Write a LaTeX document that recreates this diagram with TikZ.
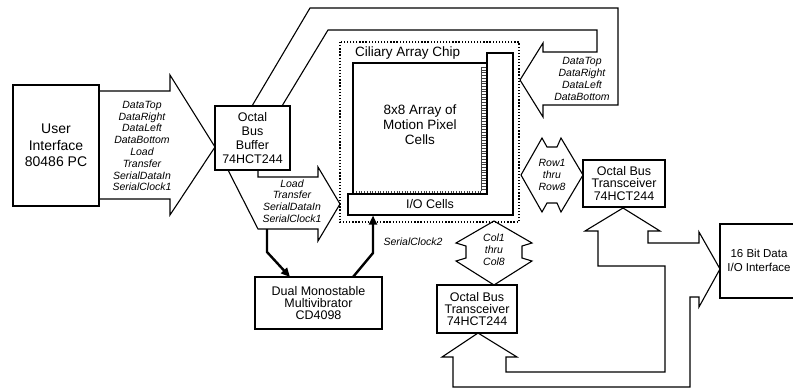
\documentclass[tikz,border=0pt]{standalone}
\usepackage{fontspec}
\setmainfont{Liberation Sans}
\usetikzlibrary{arrows.meta}
\begin{document}
\begin{tikzpicture}[x=1pt,y=-1pt,
  box/.style={draw, line width=1.3pt, fill=white, inner sep=0pt},
  lbl/.style={font=\fontsize{12.5}{12.5}\selectfont, align=center, inner sep=0pt},
  sm/.style={font=\itshape\fontsize{10.5}{11.8}\selectfont, align=center, inner sep=0pt},
  fat/.style={draw, line width=1.1pt, line join=miter, fill=white},
  tarrow/.style={line width=2.4pt, -{Triangle[length=9pt,width=8pt]}}]
\useasboundingbox (0,0) rectangle (793,388);
\clip (0,0) rectangle (793,388);

% fat arrow: user interface -> buffer
\draw[fat] (99,91) -- (170,91) -- (170,75) -- (215,147) -- (170,215) -- (170,199) -- (99,199) -- cycle;
\node[sm] (t1) at (142,146) {DataTop\\DataRight\\DataLeft\\DataBottom\\Load\\Transfer\\SerialDataIn\\SerialClock1};

% fat arrow: buffer -> over the top -> chip right side
\draw[fat] (252,106) -- (310,8) -- (618,8) -- (618,105) -- (543,105) -- (543,117) -- (520,80)
  -- (543,43) -- (543,52) -- (597,52) -- (597,30) -- (328,30) -- (282,106) -- cycle;
\node[sm] (t2) at (582,79) {DataTop\\DataRight\\DataLeft\\DataBottom};

% fat arrow: buffer -> I/O cells
\draw[fat] (228,170) -- (258,229) -- (318,229) -- (318,241) -- (340,204) -- (318,167) -- (318,177)
  -- (258,177) -- (258,170) -- cycle;
\node[sm] (t3) at (292,201) {Load\\Transfer\\SerialDataIn\\SerialClock1};

% row double arrow
\draw[fat] (521,175) -- (542,138) -- (547,147) -- (557,147) -- (561,138) -- (583,175) -- (561,212)
  -- (557,203) -- (547,203) -- (542,212) -- cycle;
\node[sm] (t4) at (552,175) {Row1\\thru\\Row8};

% column double arrow
\draw[fat] (494,221) -- (532,243) -- (522,246) -- (522,258) -- (532,261) -- (494,285) -- (456,261)
  -- (466,258) -- (466,246) -- (456,243) -- cycle;
\node[sm] (t5) at (494,250) {Col1\\thru\\Col8};

% bottom bus loop
\draw[fat] (623,208) -- (660,231) -- (648,231) -- (648,243) -- (699,243) -- (699,232) -- (720,269)
  -- (699,307) -- (699,297) -- (690,297) -- (690,387) -- (453,387) -- (453,357) -- (442,357)
  -- (478,333) -- (517,357) -- (506,357) -- (506,372) -- (665,372) -- (665,266) -- (598,266)
  -- (598,231) -- (585,231) -- cycle;

% chip
\draw[line width=1.2pt, dash pattern=on 1.3pt off 1.8pt] (340,42) rectangle (519,222);
\node[lbl, anchor=west, font=\fontsize{13.5}{13.5}\selectfont] (chiplbl) at (355,53) {Ciliary Array Chip};
\draw[line width=1.3pt] (353,63) rectangle (487,194);
\draw[line width=1.3pt, fill=white] (487,53) -- (513,53) -- (513,215) -- (348,215) -- (348,194) -- (487,194) -- cycle;
\draw[line width=4.5pt, black!75, dash pattern=on 0.9pt off 1.8pt] (483.8,67) -- (483.8,191);
\draw[line width=0.6pt, black!75] (481.5,67) -- (481.5,191);
\draw[line width=2.5pt, black!75, dash pattern=on 0.9pt off 1.8pt] (356,191.8) -- (481,191.8);
\node[lbl, font=\fontsize{13.5}{15}\selectfont] (arr) at (420,125) {8x8 Array of\\Motion Pixel\\Cells};
\node[lbl] (io) at (430,204) {I/O Cells};
\node[sm] (sc2) at (413,242) {SerialClock2};

% boxes
\node[box, minimum width=86pt, minimum height=121pt, font=\fontsize{14}{16.5}\selectfont, align=center] (ui) at (56,145.5) {User\\Interface\\80486 PC};
\node[box, lbl, minimum width=75pt, minimum height=64pt, font=\fontsize{12.5}{13.7}\selectfont] (buf) at (252.5,138) {Octal\\Bus\\Buffer\\74HCT244};
\node[box, lbl, minimum width=127pt, minimum height=52pt, font=\fontsize{12.5}{11.8}\selectfont] (dual) at (318.5,303) {Dual Monostable\\Multivibrator\\CD4098};
\node[box, lbl, minimum width=82pt, minimum height=47pt] (ttx) at (624,183.5) {Octal Bus\\Transceiver\\74HCT244};
\node[box, lbl, minimum width=80pt, minimum height=48pt, font=\fontsize{12.5}{11.8}\selectfont] (ltx) at (477,309) {Octal Bus\\Transceiver\\74HCT244};
\node[box, minimum width=90pt, minimum height=74pt] (ifx) at (765,261) {};
\node[lbl, font=\fontsize{11.5}{14}\selectfont] (ift) at (759,260) {16 Bit Data\\I/O Interface};

% thick control arrows
\coordinate (a1s) at (267,229);
\coordinate (a1m) at (267,252);
\coordinate (a1e) at (290,277);
\draw[tarrow] (a1s) -- (a1m) -- (a1e);
\coordinate (a2s) at (353,277);
\coordinate (a2m) at (373,253);
\coordinate (a2e) at (373,215.5);
\draw[tarrow] (a2s) -- (a2m) -- (a2e);
\end{tikzpicture}
\end{document}
